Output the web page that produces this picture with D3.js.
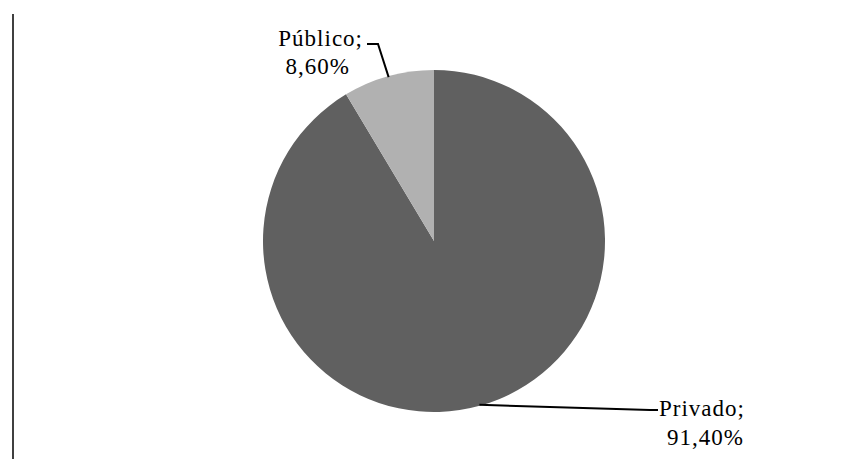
<!DOCTYPE html>
<html>
<head>
<meta charset="utf-8">
<script src="https://cdn.jsdelivr.net/npm/d3@7"></script>
<style>
  body { margin: 0; background: #fff; }
  #canvas { width: 845px; height: 459px; }
  text { font-family: "Liberation Serif", "Times New Roman", serif; font-size: 23px; fill: #000; letter-spacing: 1px; }
</style>
</head>
<body>
<div id="canvas"></div>
<script>
  var categories = ["Privado", "Público"];
  var values = [91.4, 8.6];
  var valueLabels = ["91,40%", "8,60%"];
  var colors = ["#606060", "#b1b1b1"];

  function draw() {
    var width = 845, height = 459;
    var cx = 434, cy = 241, r = 171;

    var svg = d3.select("#canvas").append("svg")
        .attr("width", width)
        .attr("height", height);

    // left border line
    svg.append("line")
        .attr("x1", 13).attr("x2", 13)
        .attr("y1", 14).attr("y2", height)
        .attr("stroke", "#000")
        .attr("stroke-width", 1.5);

    var pie = d3.pie().sort(null).value(function(d){ return d; });
    var arcs = pie(values);
    var arc = d3.arc().innerRadius(0).outerRadius(r);

    var g = svg.append("g").attr("transform", "translate(" + cx + "," + cy + ")");

    g.selectAll("path.slice")
      .data(arcs)
      .enter().append("path")
        .attr("class", "slice")
        .attr("d", arc)
        .attr("fill", function(d, i){ return colors[i]; });

    // leader lines start on the arc at each slice's mid angle
    var edge = function(d) {
      var a = (d.startAngle + d.endAngle) / 2;
      return [Math.sin(a) * (r - 1), -Math.cos(a) * (r - 1)];
    };

    // Privado: down-right
    var p0 = edge(arcs[0]);
    var pLine = [p0, [216, 169], [224, 169]];
    g.append("path")
        .attr("d", d3.line()(pLine))
        .attr("fill", "none").attr("stroke", "#000").attr("stroke-width", 2);
    var pt = g.append("text").attr("x", 225).attr("y", 175);
    pt.append("tspan").attr("x", 225).text(categories[0] + ";");
    pt.append("tspan").attr("x", 233).attr("dy", 28.5).text(valueLabels[0]);

    // Público: up-left
    var q0 = edge(arcs[1]);
    var qLine = [q0, [-56, -197], [-67, -197]];
    g.append("path")
        .attr("d", d3.line()(qLine))
        .attr("fill", "none").attr("stroke", "#000").attr("stroke-width", 2);
    var qt = g.append("text").attr("text-anchor", "end").attr("x", -71).attr("y", -195.5);
    qt.append("tspan").attr("x", -71).text(categories[1] + ";");
    qt.append("tspan").attr("x", -84).attr("dy", 28.5).text(valueLabels[1]);
  }

  draw();
</script>
</body>
</html>
